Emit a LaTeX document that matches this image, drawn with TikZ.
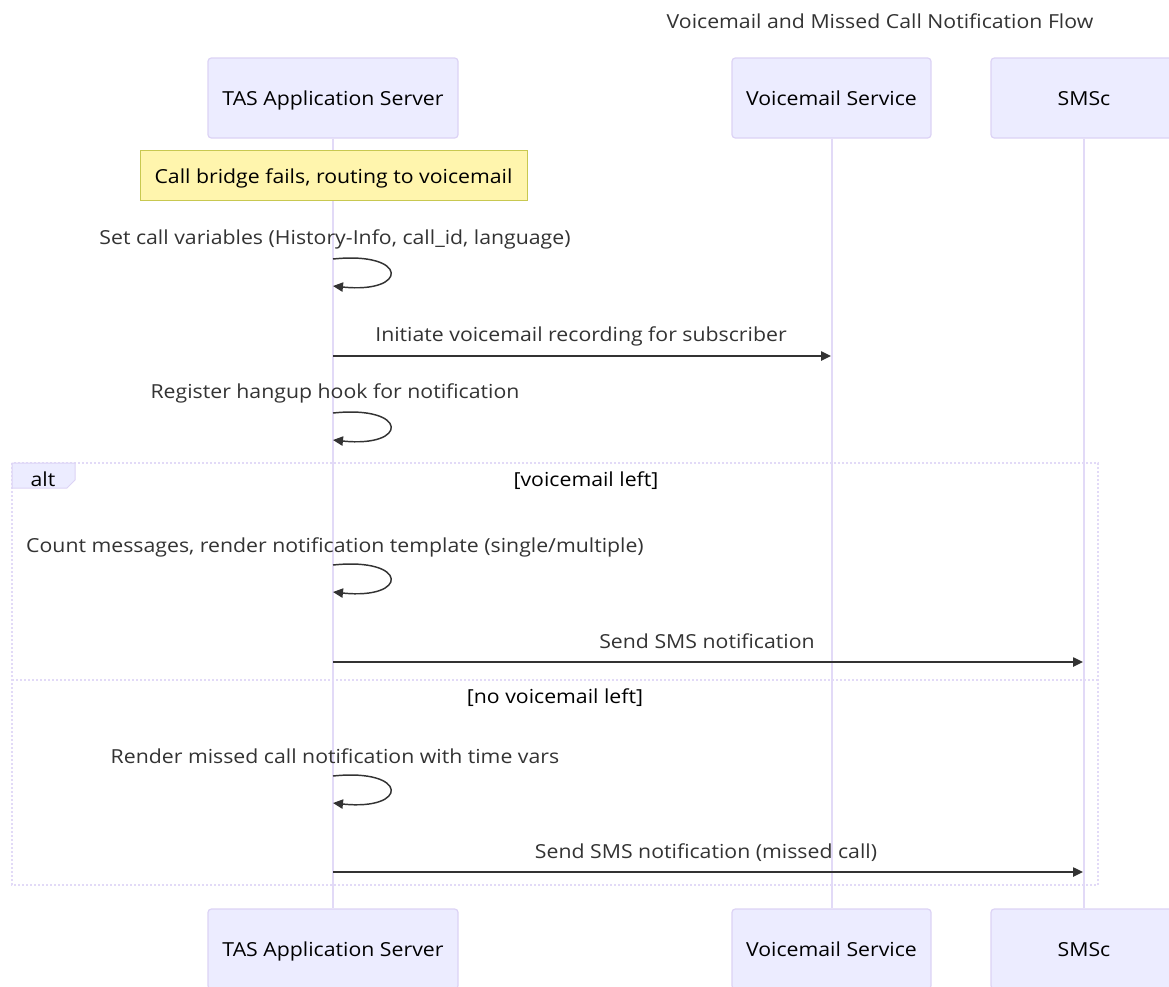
\documentclass[tikz,border=0pt]{standalone}
\usepackage{fontspec}
\setmainfont{Open Sans}[FakeStretch=1.1]
\usetikzlibrary{arrows.meta}
\definecolor{actfill}{HTML}{ECECFF}
\definecolor{actline}{HTML}{DCD3F5}
\definecolor{lifec}{HTML}{E2DAF7}
\definecolor{notefill}{HTML}{FFF5AD}
\definecolor{noteline}{HTML}{C8C850}
\definecolor{txt}{HTML}{333333}
\begin{document}
\begin{tikzpicture}[x=0.75pt,y=-0.75pt,
  font=\fontsize{14.5}{17}\selectfont,
  actor/.style={draw=actline, fill=actfill, line width=0.9pt, rounded corners=2.5pt, minimum height=60pt, inner sep=0pt, text=black, text height=11.8pt, text depth=0pt},
  lifeline/.style={draw=lifec, line width=1.5pt},
  msg/.style={draw=txt, line width=1.1pt, -{Triangle[length=7.5pt,width=7pt]}},
  lbl/.style={text=txt, inner sep=0pt, anchor=center, yshift=-1.5pt},
  frameline/.style={draw=lifec, line width=1pt, dash pattern=on 1.5pt off 1.5pt},
  notebox/.style={draw=noteline, fill=notefill, line width=0.75pt, minimum width=290.25pt, minimum height=37.5pt, inner sep=0pt, text=black, text height=11.5pt, text depth=0pt}
]
\useasboundingbox (0,0) rectangle (1169,986);
\fill[white] (0,0) rectangle (1169,986);

% title
\node[lbl] (title) at (880,19) {Voicemail and Missed Call Notification Flow};

% actors
\node[actor, minimum width=187.5pt] (tasT) at (333,98) {TAS Application Server};
\node[actor, minimum width=149.25pt] (vmT) at (831.5,98) {Voicemail Service};
\node[actor, minimum width=139.5pt] (smT) at (1084,98) {SMSc};
\node[actor, minimum width=187.5pt] (tasB) at (333,949) {TAS Application Server};
\node[actor, minimum width=149.25pt] (vmB) at (831.5,949) {Voicemail Service};
\node[actor, minimum width=139.5pt] (smB) at (1084,949) {SMSc};

% lifelines
\draw[lifeline] (tasT.south) -- (tasB.north);
\draw[lifeline] (vmT.south) -- (vmB.north);
\draw[lifeline] (smT.south) -- (smB.north);

% note
\node[notebox] (note) at (333.5,175.5) {Call bridge fails, routing to voicemail};

% lifeline points
\coordinate (s1a) at (333,259); \coordinate (s1b) at (333,286);
\coordinate (t2) at (333,356);  \coordinate (v2) at (831,356);
\coordinate (s3a) at (333,413); \coordinate (s3b) at (333,440);
\coordinate (s4a) at (333,565); \coordinate (s4b) at (333,592);
\coordinate (t5) at (333,662);  \coordinate (m5) at (1083,662);
\coordinate (s6a) at (333,776); \coordinate (s6b) at (333,803);
\coordinate (t7) at (333,872);  \coordinate (m7) at (1083,872);

% messages
\node[lbl] (l1) at (335,237) {Set call variables (History-Info, call\_id, language)};
\draw[msg] (s1a) .. controls +(76,-8) and +(76,8) .. (s1b);

\node[lbl] (l2) at (581,334) {Initiate voicemail recording for subscriber};
\draw[msg] (t2) -- (v2);

\node[lbl] (l3) at (335,391) {Register hangup hook for notification};
\draw[msg] (s3a) .. controls +(76,-8) and +(76,8) .. (s3b);

% alt frame
\coordinate (fTL) at (12,463); \coordinate (fBR) at (1098,885);
\draw[frameline] (fTL) rectangle (fBR);
\coordinate (sepL) at (12,680); \coordinate (sepR) at (1098,680);
\draw[frameline] (sepL) -- (sepR);
\draw[draw=actline, fill=actfill, line width=0.75pt] (12,463) -- (75,463) -- (75,480) -- (67,488) -- (12,488) -- cycle;
\node[lbl, text=black] (alt) at (43,477) {alt};
\node[lbl, text=black] (g1) at (586,479) {[voicemail left]};

\node[lbl] (l4) at (335,545) {Count messages, render notification template (single/multiple)};
\draw[msg] (s4a) .. controls +(76,-8) and +(76,8) .. (s4b);

\node[lbl] (l5) at (707,639) {Send SMS notification};
\draw[msg] (t5) -- (m5);

\node[lbl, text=black] (g2) at (555,696) {[no voicemail left]};

\node[lbl] (l6) at (335,754) {Render missed call notification with time vars};
\draw[msg] (s6a) .. controls +(76,-8) and +(76,8) .. (s6b);

\node[lbl] (l7) at (706,851) {Send SMS notification (missed call)};
\draw[msg] (t7) -- (m7);
\end{tikzpicture}
\end{document}
